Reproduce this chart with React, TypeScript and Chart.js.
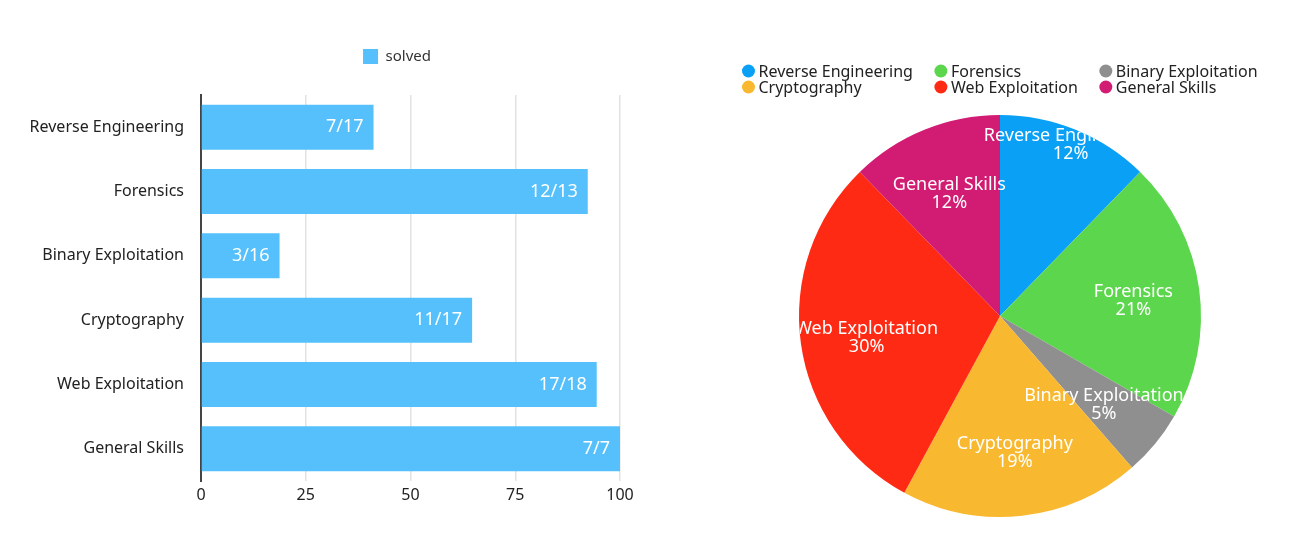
import { useEffect, useRef } from 'react'
import { Chart, registerables } from 'chart.js'

Chart.register(...registerables)

const categories = ['Reverse Engineering', 'Forensics', 'Binary Exploitation', 'Cryptography', 'Web Exploitation', 'General Skills']
const solved = [7, 12, 3, 11, 17, 7]
const totals = [17, 13, 16, 17, 18, 7]
const xTicks = [0, 25, 50, 75, 100]

const barColor = '#55c0fb'
const sliceColors = ['#0aa0f5', '#5cd64d', '#8f8f8f', '#f8b830', '#ff2a14', '#d21c73']
const FONT = '"Noto Sans", sans-serif'

// legend sits higher than chart.js would put it, so stretch its box
const legendGap = {
  id: 'legendGap',
  beforeInit(chart: any) {
    const fit = chart.legend.fit
    chart.legend.fit = function () {
      fit.call(this)
      this.height = 56
    }
  },
}

const barValues = {
  id: 'barValues',
  afterDatasetsDraw(chart: any) {
    const { ctx } = chart
    const meta = chart.getDatasetMeta(0)
    ctx.save()
    ctx.font = `18px ${FONT}`
    ctx.fillStyle = '#fff'
    ctx.textAlign = 'right'
    ctx.textBaseline = 'middle'
    meta.data.forEach((bar: any, i: number) => {
      ctx.fillText(`${solved[i]}/${totals[i]}`, bar.x - 10, bar.y)
    })
    ctx.restore()
  },
}

const gridLegend = {
  id: 'gridLegend',
  afterDraw(chart: any) {
    const { ctx, chartArea } = chart
    const labels: string[] = chart.data.labels
    const colors: string[] = chart.data.datasets[0].backgroundColor
    const cols = 3
    const dot = 16
    const gap = 22
    ctx.save()
    ctx.font = `16px ${FONT}`
    const colW = [0, 0, 0]
    labels.forEach((l, i) => {
      colW[i % cols] = Math.max(colW[i % cols], ctx.measureText(l).width)
    })
    const widths = colW.map((w) => dot + w + gap)
    const total = widths.reduce((a, b) => a + b, 0) - gap
    const x0 = (chartArea.left + chartArea.right) / 2 - total / 2
    ctx.textBaseline = 'middle'
    labels.forEach((l, i) => {
      const c = i % cols
      const r = Math.floor(i / cols)
      let x = x0
      for (let k = 0; k < c; k++) x += widths[k]
      const y = 71 + r * 16
      ctx.fillStyle = colors[i]
      ctx.beginPath()
      ctx.arc(x + 6, y, 6.5, 0, Math.PI * 2)
      ctx.fill()
      ctx.fillStyle = '#222'
      ctx.fillText(l, x + dot, y + 1)
    })
    ctx.restore()
  },
}

const sliceLabels = {
  id: 'sliceLabels',
  afterDatasetsDraw(chart: any) {
    const { ctx } = chart
    const meta = chart.getDatasetMeta(0)
    const data: number[] = chart.data.datasets[0].data
    const sum = data.reduce((a, b) => a + b, 0)
    const lh = 18
    ctx.save()
    ctx.font = `18px ${FONT}`
    const placed: any[] = []
    let cx = 0
    let cy = 0
    let R = 0
    for (let i = meta.data.length - 1; i >= 0; i--) {
      const arc = meta.data[i]
      const { x, y, startAngle, endAngle, outerRadius } = arc.getProps(['x', 'y', 'startAngle', 'endAngle', 'outerRadius'], true)
      cx = x
      cy = y
      R = outerRadius
      const mid = (startAngle + endAngle) / 2
      const lines = [chart.data.labels[i], `${Math.round((data[i] / sum) * 100)}%`]
      const w = Math.max(...lines.map((t: string) => ctx.measureText(t).width))
      const h = lh * 2
      const hits = (px: number, py: number) =>
        placed.some((p) => Math.abs(px - p.x) < (w + p.w) / 2 && Math.abs(py - p.y) < (h + p.h) / 2)
      let r = outerRadius * 0.67
      let moved = false
      while (hits(x + Math.cos(mid) * r, y + Math.sin(mid) * r + 3) && r < outerRadius * 1.5) {
        r += 1
        moved = true
      }
      if (moved) r += 14
      placed.push({ x: x + Math.cos(mid) * r, y: y + Math.sin(mid) * r + 3, w, h, lines })
    }
    ctx.beginPath()
    ctx.arc(cx, cy, R, 0, Math.PI * 2)
    ctx.clip()
    ctx.fillStyle = '#fff'
    ctx.textAlign = 'center'
    ctx.textBaseline = 'middle'
    placed.forEach((p) => {
      ctx.fillText(p.lines[0], p.x, p.y - lh / 2)
      ctx.fillText(p.lines[1], p.x, p.y + lh / 2)
    })
    ctx.restore()
  },
}

function SolvedBars() {
  const ref = useRef<HTMLCanvasElement>(null)

  useEffect(() => {
    if (!ref.current) return
    const ratios = solved.map((s, i) => (s / totals[i]) * 100)
    const chart = new Chart(ref.current, {
      type: 'bar',
      data: {
        labels: categories,
        datasets: [{
          label: 'solved',
          data: ratios,
          backgroundColor: barColor,
          borderWidth: 0,
          categoryPercentage: 1,
          barPercentage: 0.7,
        }],
      },
      options: {
        indexAxis: 'y',
        animation: false,
        responsive: false,
        layout: { padding: { top: 39, left: 0, right: 0, bottom: 0 } },
        plugins: {
          legend: {
            labels: { boxWidth: 15, boxHeight: 15, color: '#333', font: { family: FONT, size: 15 } },
          },
          tooltip: { enabled: false },
        },
        scales: {
          x: {
            min: 0,
            max: 100,
            afterBuildTicks: (s: any) => { s.ticks = xTicks.map((v) => ({ value: v })) },
            afterFit: (s: any) => { s.height = 70 },
            ticks: { color: '#222', padding: 5, font: { family: FONT, size: 16 } },
            grid: { color: '#e2e2e2', lineWidth: 1.5, drawTicks: false },
            border: { display: false },
          },
          y: {
            afterFit: (s: any) => { s.width = 201 },
            ticks: { color: '#222', padding: 17, font: { family: FONT, size: 16 } },
            grid: { display: false, drawTicks: false },
            border: { color: '#444', width: 2 },
          },
          y2: {
            type: 'category',
            position: 'right',
            afterFit: (s: any) => { s.width = 174 },
            ticks: { display: false },
            grid: { display: false },
            border: { display: false },
          },
        },
      } as any,
      plugins: [legendGap, barValues],
    })
    return () => chart.destroy()
  }, [])

  return <canvas ref={ref} width={794} height={551} style={{ position: 'absolute', left: 0, top: 0 }} />
}

function SharePie() {
  const ref = useRef<HTMLCanvasElement>(null)

  useEffect(() => {
    if (!ref.current) return
    const chart = new Chart(ref.current, {
      type: 'pie',
      data: {
        labels: categories,
        datasets: [{ data: solved, backgroundColor: sliceColors, borderWidth: 0 }],
      },
      options: {
        animation: false,
        responsive: false,
        layout: { padding: { top: 115, bottom: 34, left: 99, right: 98 } },
        plugins: { legend: { display: false }, tooltip: { enabled: false } },
      },
      plugins: [sliceLabels, gridLegend],
    })
    return () => chart.destroy()
  }, [])

  return <canvas ref={ref} width={599} height={551} style={{ position: 'absolute', left: 700, top: 0 }} />
}

export default function App() {
  return (
    <div style={{ position: 'absolute', left: 0, top: 0, width: 1299, height: 551, background: '#fff' }}>
      <SolvedBars />
      <SharePie />
    </div>
  )
}
